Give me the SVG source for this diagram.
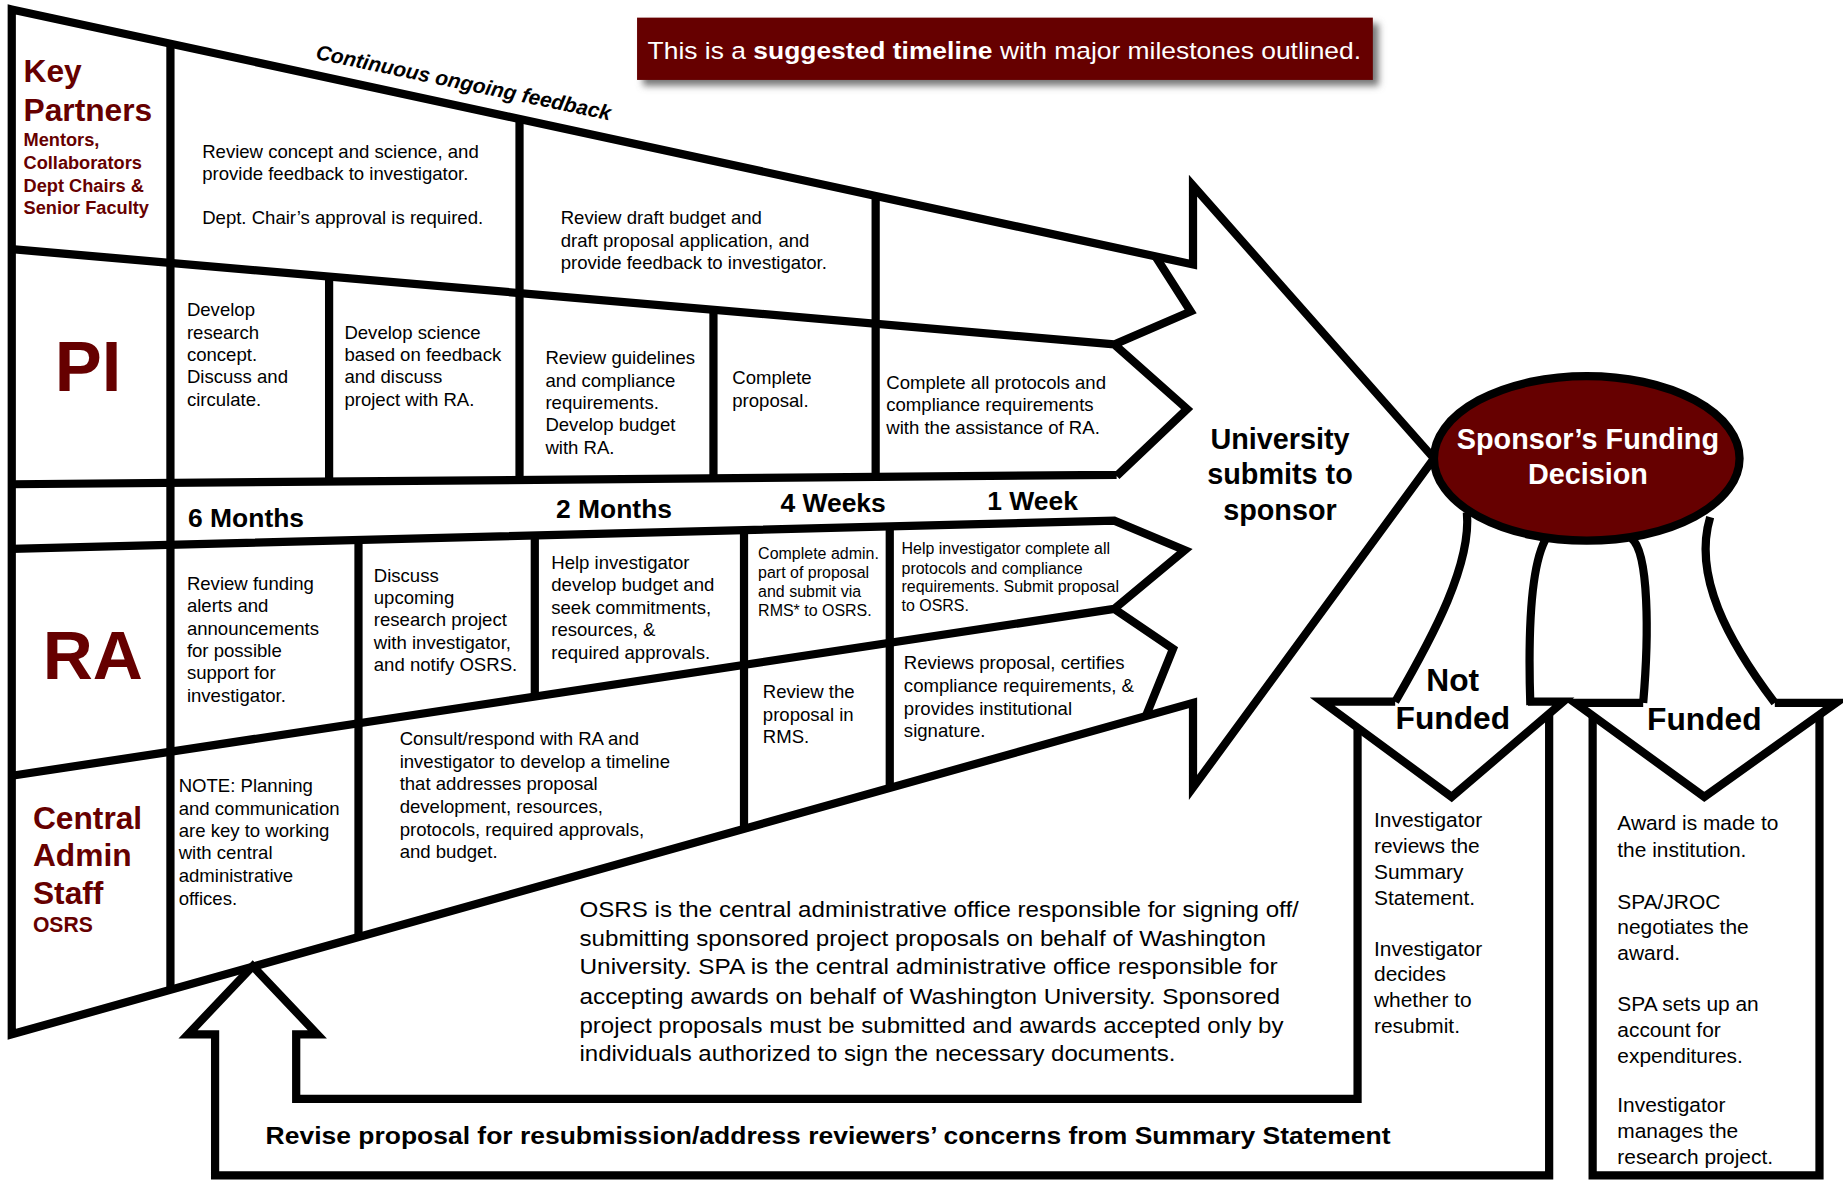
<svg xmlns="http://www.w3.org/2000/svg" width="1843" height="1182" viewBox="0 0 1843 1182">
<defs>
<style>
.ln{fill:none;stroke:#000;stroke-width:7;stroke-linejoin:miter;stroke-miterlimit:10}
.frame{fill:#fff;stroke:#000;stroke-width:7;stroke-linejoin:miter;stroke-miterlimit:10}
.t{font-family:"Liberation Sans",Arial,sans-serif;font-size:15.8px;fill:#000}
.s{font-size:13.6px}
.m{font-size:17.8px}
.b{font-weight:bold}
.red{fill:#660000}
.w{fill:#fff}
.tl{font-family:"Liberation Sans",Arial,sans-serif;font-weight:bold;font-size:22.5px;fill:#000}
.big{font-family:"Liberation Sans",Arial,sans-serif;font-weight:bold;font-size:24.5px;text-anchor:middle}
</style>
<filter id="blur" x="-10%" y="-40%" width="120%" height="180%"><feGaussianBlur stdDeviation="3"/></filter>
</defs>
<rect width="1843" height="1182" fill="#fff"/>
<g transform="scale(1.17538)">

<g id="main-frame">
<polygon class="frame" points="10,8 1015,225 1015,158 1220,390 1015,670 1015,598 10,880"/>
<path class="ln" d="M10,212 L948,293 M983,218 L1013,265 L948,293 L1010,348 L950,405 M10,412 L950,404 M10,467 L948,443 L1008,468 L948,518 L998,552 L975,609 M10,660 L948,518"/>
<path class="ln" d="M145,37 V842 M442,101 V408 M745,167 V405 M280,235 V409 M607,264 V406 M305,459 V797 M455,456 V593 M633,451 V705 M757,448 V670"/>
<text class="t b" style="font-size:17.8px;font-style:italic" x="268" y="50" transform="rotate(11.8 268 50)">Continuous ongoing feedback</text>
</g>

<g id="return-arrow">
<path class="ln" d="M1318,607 V1000 H183 V880 H160 L215,822 L270,880 H252 V935 H1155 V618"/>
<text class="t b" style="font-size:21px" x="226" y="973" textLength="957" lengthAdjust="spacingAndGlyphs">Revise proposal for resubmission/address reviewers’ concerns from Summary Statement</text>
</g>

<g id="connectors">
<path class="ln" d="M1248,436 C1252,480 1220,540 1187,597"/>
<path class="ln" d="M1316,457 C1302,480 1300,540 1302,600"/>
<path class="ln" d="M1388,458 C1403,470 1403,540 1398,598"/>
<path class="ln" d="M1455,440 C1440,490 1470,545 1510,598"/>
</g>

<g id="banner">
<rect x="547" y="20" width="626" height="53" fill="#777" filter="url(#blur)"/>
<rect x="542" y="15" width="626" height="53" fill="#660000"/>
<text class="t w" style="font-size:21px" x="551" y="50" textLength="607" lengthAdjust="spacingAndGlyphs">This is a <tspan font-weight="bold">suggested timeline</tspan> with major milestones outlined.</text>
</g>

<g id="key-partners-label">
<text class="t b red" style="font-size:27px"><tspan x="20" y="70">Key</tspan><tspan x="20" y="103">Partners</tspan></text>
<text class="t b red" style="font-size:15.5px"><tspan x="20" y="124">Mentors,</tspan><tspan x="20" y="144">Collaborators</tspan><tspan x="20" y="163">Dept Chairs &amp;</tspan><tspan x="20" y="182">Senior Faculty</tspan></text>
</g>
<g id="pi-label"><text class="t b red" style="font-size:60px" x="75" y="333" text-anchor="middle">PI</text></g>
<g id="ra-label"><text class="t b red" style="font-size:59px" x="79" y="578" text-anchor="middle">RA</text></g>
<g id="central-label">
<text class="t b red" style="font-size:27px"><tspan x="28" y="705">Central</tspan><tspan x="28" y="737">Admin</tspan><tspan x="28" y="769">Staff</tspan></text>
<text class="t b red" style="font-size:18px" x="28" y="793">OSRS</text>
</g>

<g id="kp-cell-1"><text class="t"><tspan x="172" y="134">Review concept and science, and</tspan><tspan x="172" y="153">provide feedback to investigator.</tspan><tspan x="172" y="191">Dept. Chair’s approval is required.</tspan></text></g>
<g id="kp-cell-2"><text class="t"><tspan x="477" y="191">Review draft budget and</tspan><tspan x="477" y="210">draft proposal application, and</tspan><tspan x="477" y="229">provide feedback to investigator.</tspan></text></g>

<g id="pi-cell-1"><text class="t"><tspan x="159" y="269">Develop</tspan><tspan x="159" y="288">research</tspan><tspan x="159" y="307">concept.</tspan><tspan x="159" y="326">Discuss and</tspan><tspan x="159" y="345">circulate.</tspan></text></g>
<g id="pi-cell-2"><text class="t"><tspan x="293" y="288">Develop science</tspan><tspan x="293" y="307">based on feedback</tspan><tspan x="293" y="326">and discuss</tspan><tspan x="293" y="345">project with RA.</tspan></text></g>
<g id="pi-cell-3"><text class="t"><tspan x="464" y="310">Review guidelines</tspan><tspan x="464" y="329">and compliance</tspan><tspan x="464" y="348">requirements.</tspan><tspan x="464" y="367">Develop budget</tspan><tspan x="464" y="386">with RA.</tspan></text></g>
<g id="pi-cell-4"><text class="t"><tspan x="623" y="327">Complete</tspan><tspan x="623" y="346">proposal.</tspan></text></g>
<g id="pi-cell-5"><text class="t"><tspan x="754" y="331">Complete all protocols and</tspan><tspan x="754" y="350">compliance requirements</tspan><tspan x="754" y="369">with the assistance of RA.</tspan></text></g>

<g id="timeline">
<text class="tl" x="160" y="448">6 Months</text>
<text class="tl" x="473" y="441">2 Months</text>
<text class="tl" x="664" y="436">4 Weeks</text>
<text class="tl" x="840" y="434">1 Week</text>
</g>

<g id="ra-cell-1"><text class="t"><tspan x="159" y="502">Review funding</tspan><tspan x="159" y="521">alerts and</tspan><tspan x="159" y="540">announcements</tspan><tspan x="159" y="559">for possible</tspan><tspan x="159" y="578">support for</tspan><tspan x="159" y="597">investigator.</tspan></text></g>
<g id="ra-cell-2"><text class="t"><tspan x="318" y="495">Discuss</tspan><tspan x="318" y="514">upcoming</tspan><tspan x="318" y="533">research project</tspan><tspan x="318" y="552">with investigator,</tspan><tspan x="318" y="571">and notify OSRS.</tspan></text></g>
<g id="ra-cell-3"><text class="t"><tspan x="469" y="484">Help investigator</tspan><tspan x="469" y="503">develop budget and</tspan><tspan x="469" y="522">seek commitments,</tspan><tspan x="469" y="541">resources, &amp;</tspan><tspan x="469" y="561">required approvals.</tspan></text></g>
<g id="ra-cell-4"><text class="t s"><tspan x="645" y="476">Complete admin.</tspan><tspan x="645" y="492">part of proposal</tspan><tspan x="645" y="508">and submit via</tspan><tspan x="645" y="524">RMS* to OSRS.</tspan></text></g>
<g id="ra-cell-5"><text class="t s"><tspan x="767" y="471">Help investigator complete all</tspan><tspan x="767" y="488">protocols and compliance</tspan><tspan x="767" y="504">requirements. Submit proposal</tspan><tspan x="767" y="520">to OSRS.</tspan></text></g>

<g id="central-cell-1"><text class="t"><tspan x="152" y="674">NOTE: Planning</tspan><tspan x="152" y="693">and communication</tspan><tspan x="152" y="712">are key to working</tspan><tspan x="152" y="731">with central</tspan><tspan x="152" y="750">administrative</tspan><tspan x="152" y="770">offices.</tspan></text></g>
<g id="central-cell-2"><text class="t"><tspan x="340" y="634">Consult/respond with RA and</tspan><tspan x="340" y="653">investigator to develop a timeline</tspan><tspan x="340" y="672">that addresses proposal</tspan><tspan x="340" y="692">development, resources,</tspan><tspan x="340" y="711">protocols, required  approvals,</tspan><tspan x="340" y="730">and budget.</tspan></text></g>
<g id="central-cell-3"><text class="t"><tspan x="649" y="594">Review the</tspan><tspan x="649" y="613">proposal in</tspan><tspan x="649" y="632">RMS.</tspan></text></g>
<g id="central-cell-4"><text class="t"><tspan x="769" y="569">Reviews proposal, certifies</tspan><tspan x="769" y="589">compliance requirements, &amp;</tspan><tspan x="769" y="608">provides institutional</tspan><tspan x="769" y="627">signature.</tspan></text></g>

<g id="university-submits">
<text class="big"><tspan x="1089" y="382">University</tspan><tspan x="1089" y="412">submits to</tspan><tspan x="1089" y="442">sponsor</tspan></text>
</g>

<g id="sponsor-decision">
<ellipse cx="1350" cy="390" rx="130" ry="70" fill="#660000" stroke="#000" stroke-width="7"/>
<text class="big w"><tspan x="1351" y="382">Sponsor’s Funding</tspan><tspan x="1351" y="412">Decision</tspan></text>
</g>

<g id="not-funded">
<path class="ln" d="M1187,597 H1125 L1235,678 L1330,597 H1300"/>
<text class="big" style="font-size:27px"><tspan x="1236" y="588">Not</tspan><tspan x="1236" y="620">Funded</tspan></text>
<text class="t m"><tspan x="1169" y="704">Investigator</tspan><tspan x="1169" y="726">reviews the</tspan><tspan x="1169" y="748">Summary</tspan><tspan x="1169" y="770">Statement.</tspan><tspan x="1169" y="813">Investigator</tspan><tspan x="1169" y="835">decides</tspan><tspan x="1169" y="857">whether to</tspan><tspan x="1169" y="879">resubmit.</tspan></text>
</g>

<g id="funded">
<path class="ln" d="M1398,598 H1340 L1450,678 L1562,598 H1510"/>
<path class="ln" d="M1355,609 V1000 H1548 V608"/>
<text class="big" style="font-size:27px" x="1450" y="621">Funded</text>
<text class="t m"><tspan x="1376" y="706">Award is made to</tspan><tspan x="1376" y="729">the institution.</tspan><tspan x="1376" y="773">SPA/JROC</tspan><tspan x="1376" y="795">negotiates the</tspan><tspan x="1376" y="817">award.</tspan><tspan x="1376" y="860">SPA sets up an</tspan><tspan x="1376" y="882">account for</tspan><tspan x="1376" y="904">expenditures.</tspan><tspan x="1376" y="946">Investigator</tspan><tspan x="1376" y="968">manages the</tspan><tspan x="1376" y="990">research project.</tspan></text>
</g>

<g id="osrs-note">
<text class="t" style="font-size:19.5px">
<tspan x="493" y="780" textLength="612" lengthAdjust="spacingAndGlyphs">OSRS is the central administrative office responsible for signing off/</tspan>
<tspan x="493" y="805" textLength="584" lengthAdjust="spacingAndGlyphs">submitting sponsored project proposals on behalf of Washington</tspan>
<tspan x="493" y="829" textLength="594" lengthAdjust="spacingAndGlyphs">University. SPA is the central administrative office responsible for</tspan>
<tspan x="493" y="854" textLength="596" lengthAdjust="spacingAndGlyphs">accepting awards on behalf of Washington University. Sponsored</tspan>
<tspan x="493" y="879" textLength="599" lengthAdjust="spacingAndGlyphs">project proposals must be submitted and awards accepted only by</tspan>
<tspan x="493" y="903" textLength="507" lengthAdjust="spacingAndGlyphs">individuals authorized to sign the necessary documents.</tspan>
</text>
</g>

</g>
</svg>
